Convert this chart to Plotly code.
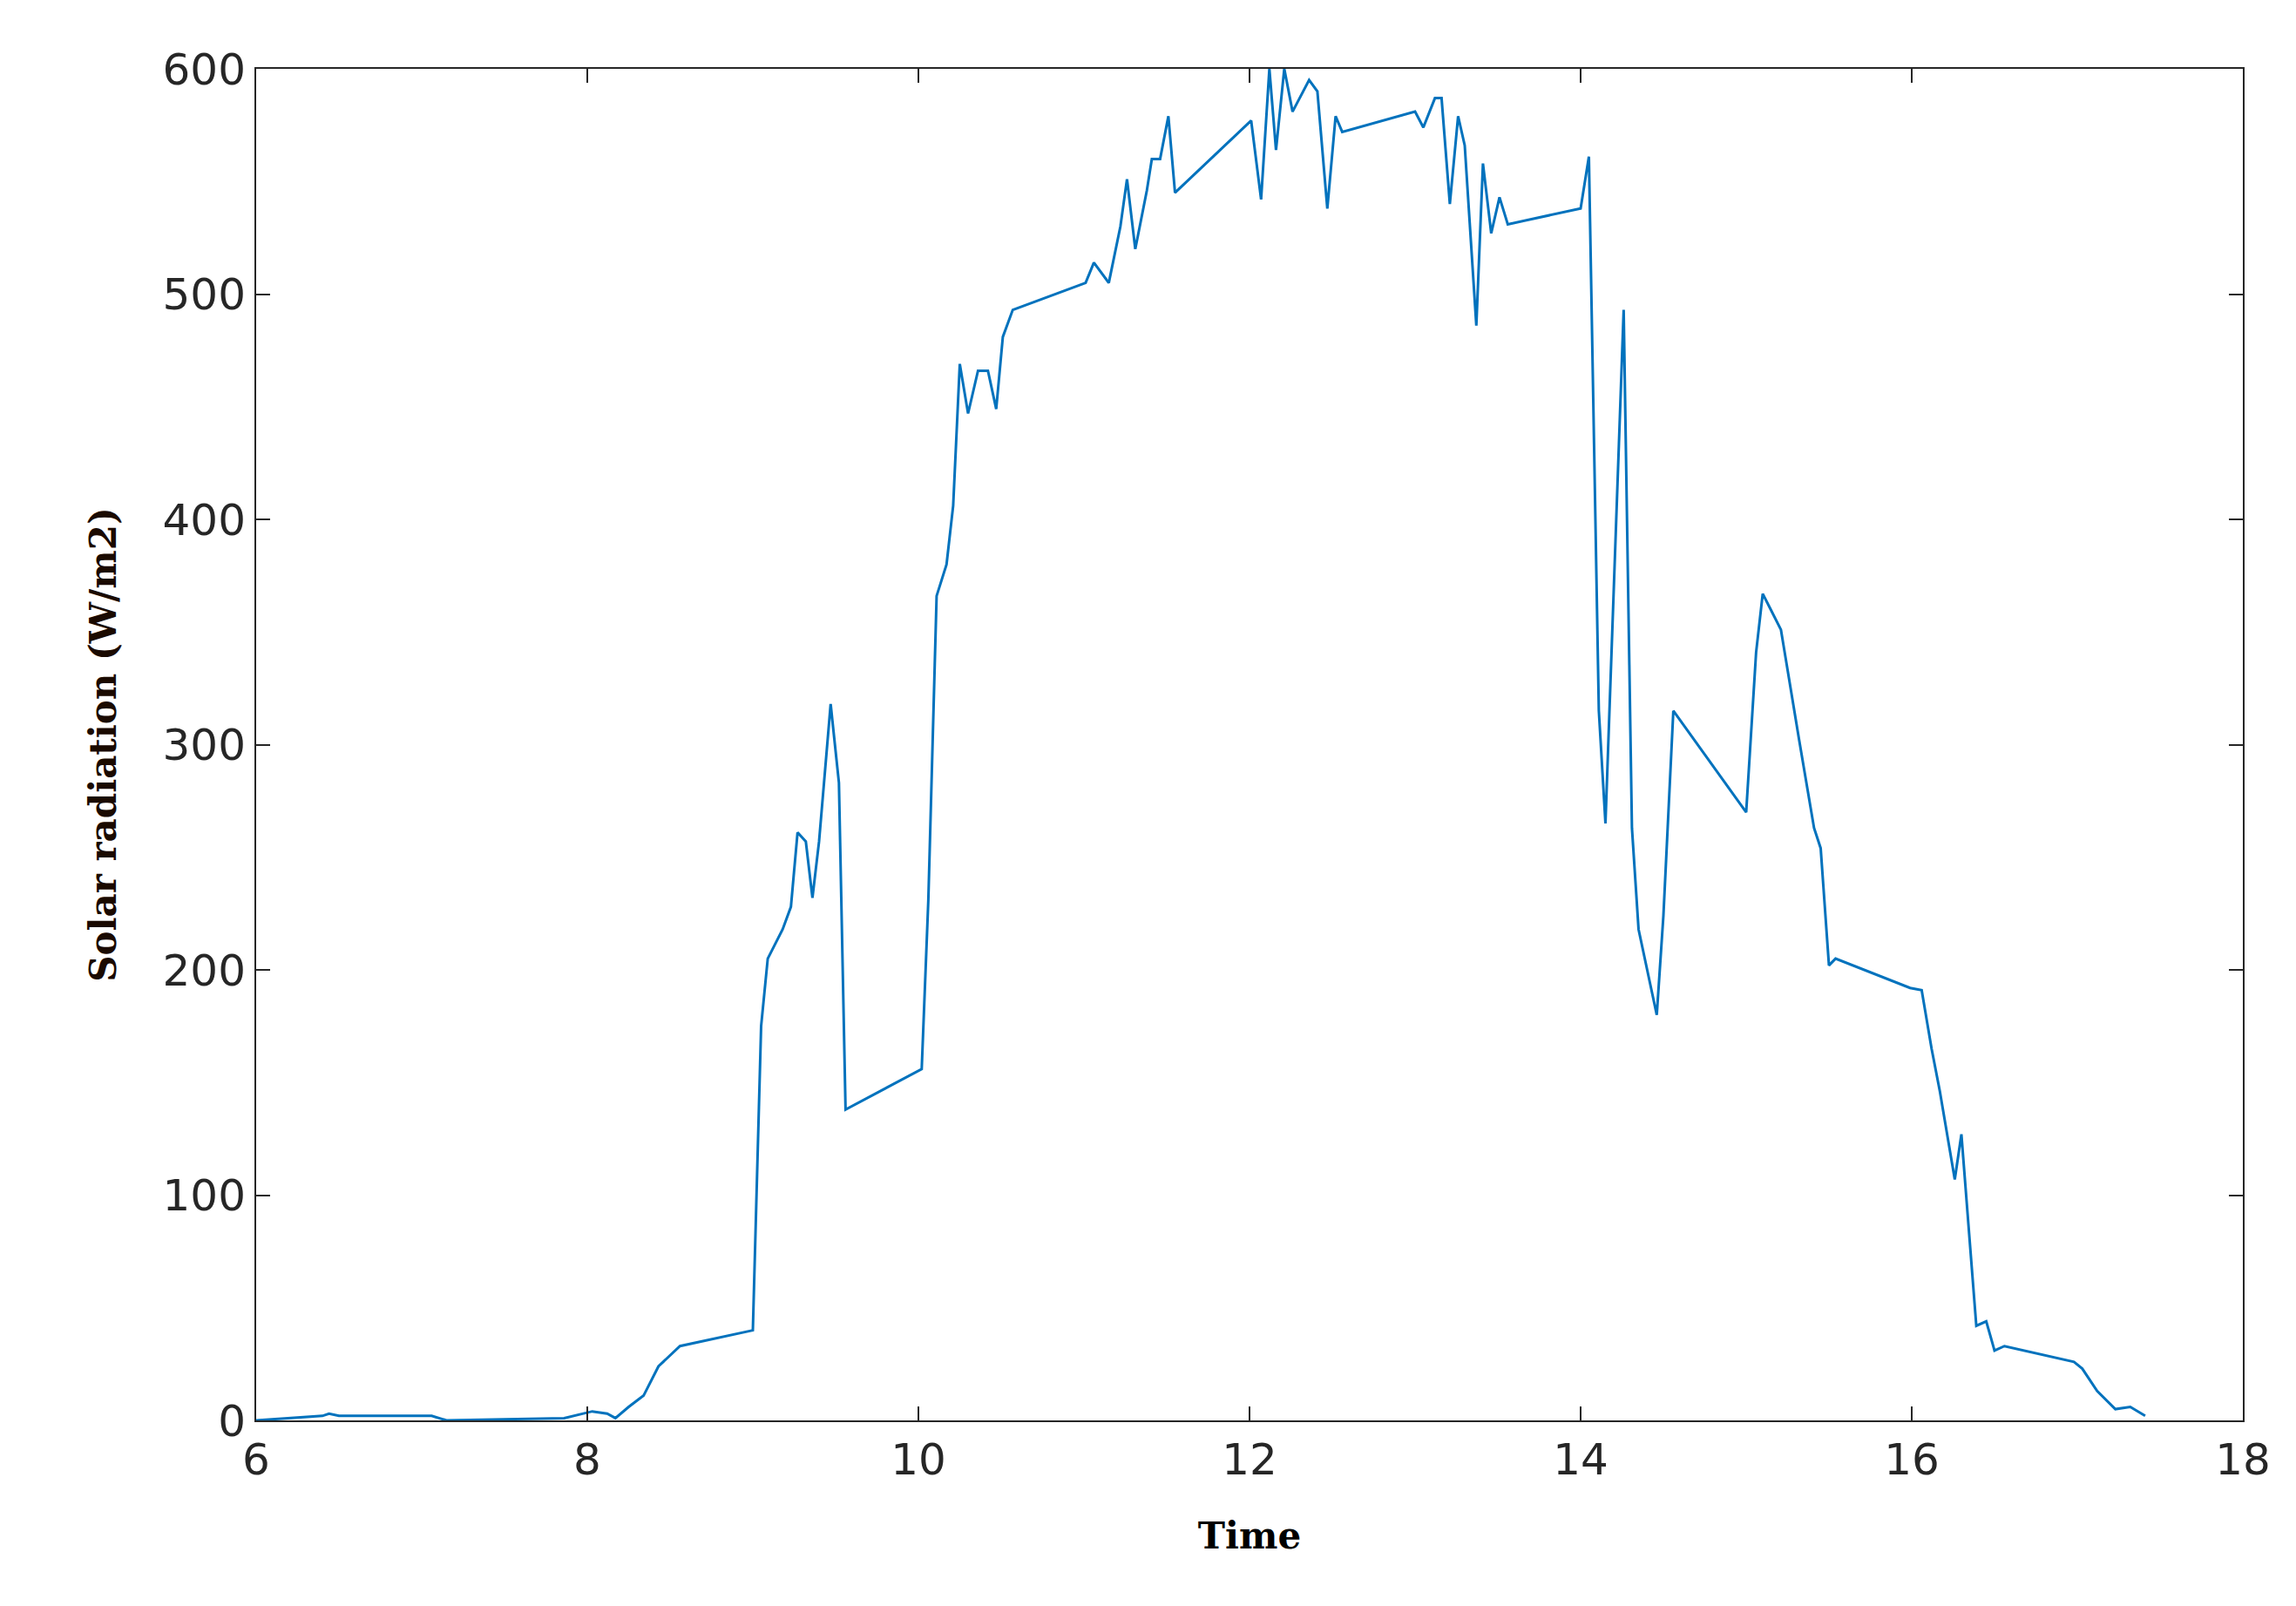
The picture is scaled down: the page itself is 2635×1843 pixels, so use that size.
import plotly.graph_objects as go

time = [6.0,6.4,6.44,6.5,7.06,7.15,7.86,8.03,8.12,8.17,8.25,8.34,8.43,8.56,9.0,9.05,9.09,9.18,9.23,9.27,9.32,9.36,9.4,9.47,9.52,9.56,
        10.02,10.06,10.11,10.17,10.21,10.25,10.3,10.36,10.42,10.47,10.51,10.57,11.01,11.06,11.15,11.22,11.26,11.31,11.38,11.41,11.46,11.51,11.55,
        12.01,12.07,12.12,12.16,12.21,12.26,12.36,12.41,12.47,12.52,12.56,13.0,13.05,13.12,13.16,13.21,13.26,13.3,13.37,13.41,13.46,13.51,13.56,
        14.0,14.05,14.11,14.15,14.26,14.31,14.35,14.46,14.5,14.56,15.0,15.06,15.1,15.21,15.32,15.41,15.45,15.5,15.54,15.99,16.06,16.12,16.17,16.26,16.3,
        16.39,16.45,16.5,16.56,16.98,17.03,17.12,17.23,17.32,17.41]
radiation = [0,2,3,2,2,0,1,4,3,1,6,11,24,33,40,175,205,218,228,261,257,232,257,318,283,138,
             156,231,366,380,406,469,447,466,466,449,481,493,505,514,505,530,551,520,546,560,560,579,545,
             577,542,600,564,600,581,595,590,538,579,572,581,574,587,587,540,579,566,486,558,527,543,531,
             538,561,315,265,493,263,218,180,224,315,270,341,367,351,302,263,254,202,205,192,191,165,146,107,127,
             42,44,31,33,26,23,13,5,6,2]

fig = go.Figure(go.Scatter(x=time, y=radiation, mode="lines", line=dict(color="#0072BD", width=3)))
ax = dict(showline=True, linecolor="#262626", linewidth=2, mirror="ticks", ticks="inside", ticklen=16,
          tickwidth=2, tickcolor="#262626", showgrid=False, zeroline=False,
          tickfont=dict(family="DejaVu Sans", size=50, color="#262626"))
fig.update_xaxes(range=[6, 18], dtick=2, title=dict(text="<b>Time</b>", font=dict(family="DejaVu Serif", size=42, color="black"), standoff=45), **ax)
fig.update_yaxes(range=[0, 600], dtick=100, title=dict(text="<b>Solar radiation (W/m2)</b>", font=dict(family="DejaVu Serif", size=42, color="#1a0a00"), standoff=40), **ax)
fig.update_layout(width=2635, height=1843, plot_bgcolor="white", paper_bgcolor="white",
                  margin=dict(l=286, r=69, t=71, b=221), showlegend=False)
fig.write_html("out.html")
